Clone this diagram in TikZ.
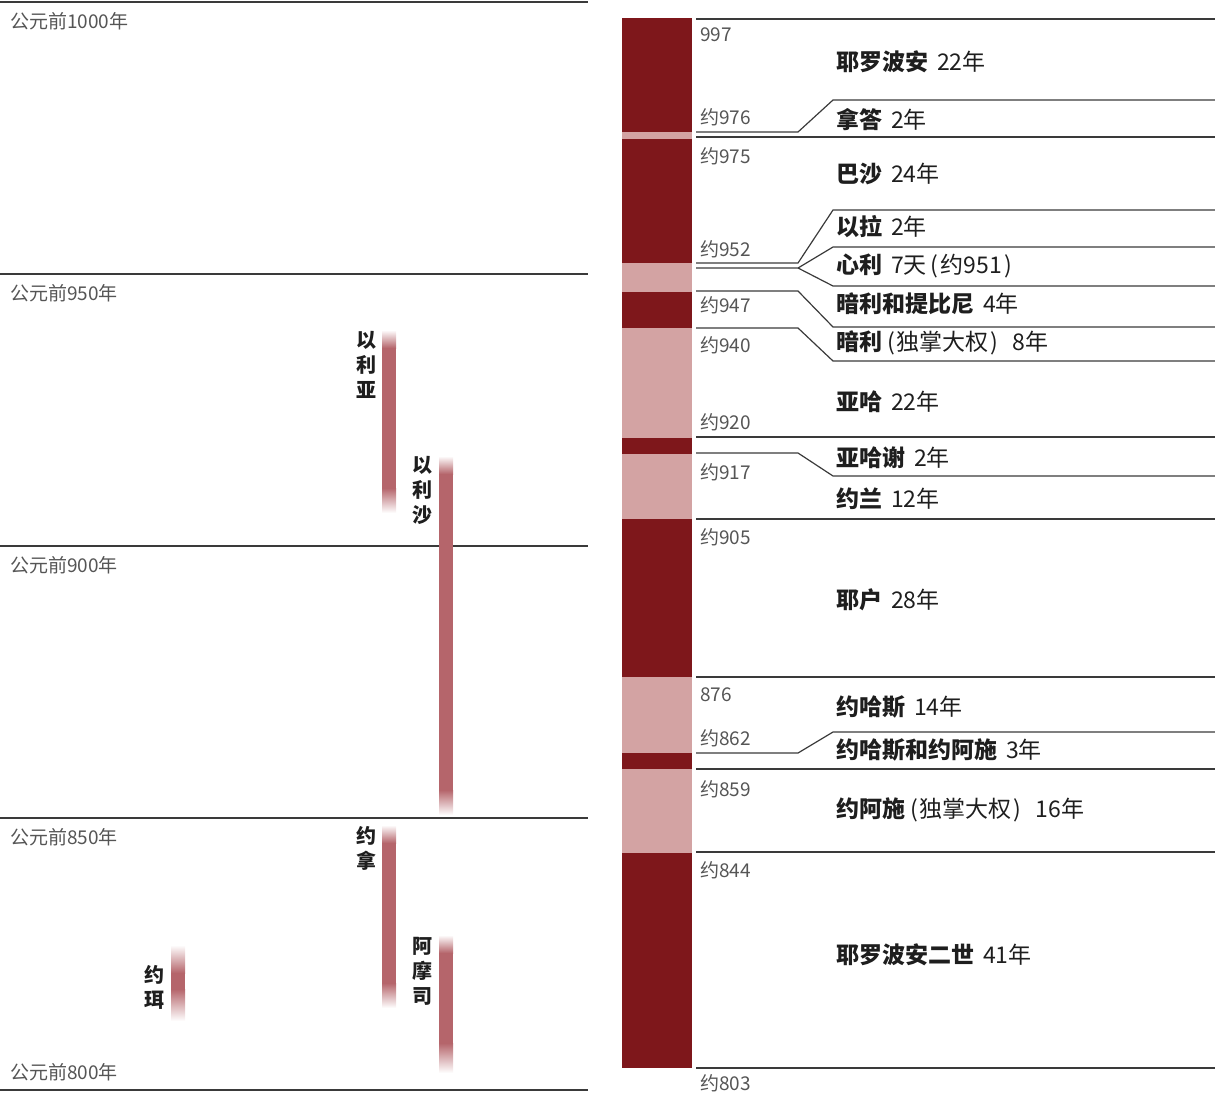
\documentclass[tikz,border=0pt]{standalone}
\usepackage{fontspec}
\setmainfont{Noto Sans CJK SC}
\usepackage{tikz}
\definecolor{kingdark}{HTML}{7E171B}
\definecolor{kinglight}{HTML}{D3A3A3}
\definecolor{seer}{HTML}{B5656B}
\definecolor{rulegray}{HTML}{3A3A3A}
\definecolor{labgray}{HTML}{555555}
\definecolor{inkgray}{HTML}{1E1E1E}
\tikzset{%
	grid/.style={draw=rulegray, line width=1.3pt},
	era/.style={anchor=west, inner sep=0pt, text=labgray, font=\fontsize{19}{19}\selectfont},
	reign/.style={draw=rulegray, line width=1.2pt},
	yr/.style={anchor=west, inner sep=0pt, text=labgray, font=\fontsize{19}{19}\selectfont},
	king/.style={anchor=west, inner sep=0pt, text=inkgray, font=\fontsize{23}{23}\selectfont},
	prophet/.style={anchor=north, inner sep=0pt, align=center, text=inkgray,%
		font=\bfseries\fontsize{20}{25}\selectfont},
	dark/.style={fill=kingdark},
	light/.style={fill=kinglight}
}

\begin{document}
\begin{tikzpicture}[x=1pt, y=-1pt]
	\useasboundingbox (0,0) rectangle (1215,1093);

	% time axis on the left
	\foreach \y/\t in {2/1000, 274/950, 546/900, 818/850}{
		\draw[grid] (0,\y) -- (588,\y);
		\node[era] (g\t) at (10,\y+19) {公元前\t 年};
	}
	\draw[grid] (0,1090) -- (588,1090);
	\node[era] (g800) at (10,1072) {公元前800年};

	% prophets
	\foreach \x/\ya/\yb/\fa/\fb in {382/330/513/18/25, 439/456/815/18/25,%
		382/825/1008/18/25, 439/935/1073/18/30, 171/945/1021/28/32}{
		\shade[top color=white, bottom color=seer] (\x,\ya) rectangle (\x+14,\ya+\fa);
		\fill[seer] (\x,\ya+\fa-0.5) rectangle (\x+14,\yb-\fb+0.5);
		\shade[top color=seer, bottom color=white] (\x,\yb-\fb) rectangle (\x+14,\yb);
	}
	\node[prophet] (elijah) at (366,331) {以\\利\\亚};
	\node[prophet] (elisha) at (422,456) {以\\利\\沙};
	\node[prophet] (jonah)  at (366,826) {约\\拿};
	\node[prophet] (amos)   at (422,937) {阿\\摩\\司};
	\node[prophet] (joel)   at (154,965) {约\\珥};

	% reigns bar
	\foreach \ya/\yb/\c in {18/131.5/dark, 131.5/138.5/light, 138.5/262.5/dark,%
		262.5/291.5/light, 291.5/327.5/dark, 327.5/437.5/light, 437.5/453.5/dark,%
		453.5/518.5/light, 518.5/676.5/dark, 676.5/752.5/light, 752.5/769/dark,%
		769/852.5/light, 852.5/1068/dark}
		\fill[\c] (622,\ya) rectangle (692,\yb);

	% reign rules
	\draw[reign] (696,19) -- (1215,19);
	\draw[reign] (696,132) -- (798,132) -- (833,100) -- (1215,100);
	\draw[reign] (696,137) -- (1215,137);
	\draw[reign] (696,263) -- (798,263) -- (833,210) -- (1215,210);
	\draw[reign] (696,268) -- (798,268) -- (833,247) -- (1215,247);
	\draw[reign] (798,268) -- (833,286) -- (1215,286);
	\draw[reign] (696,291) -- (798,291) -- (833,327) -- (1215,327);
	\draw[reign] (696,328) -- (798,328) -- (833,361) -- (1215,361);
	\draw[reign] (696,437) -- (1215,437);
	\draw[reign] (696,453) -- (798,453) -- (833,476) -- (1215,476);
	\draw[reign] (696,519) -- (1215,519);
	\draw[reign] (696,677) -- (1215,677);
	\draw[reign] (696,753) -- (798,753) -- (833,732) -- (1215,732);
	\draw[reign] (696,769) -- (1215,769);
	\draw[reign] (696,852) -- (1215,852);
	\draw[reign] (696,1068) -- (1215,1068);

	% years
	\node[yr] (y997) at (700,35)  {997};
	\node[yr] (y976) at (700,117) {约976};
	\node[yr] (y975) at (700,156) {约975};
	\node[yr] (y952) at (700,249) {约952};
	\node[yr] (y947) at (700,305) {约947};
	\node[yr] (y940) at (700,345) {约940};
	\node[yr] (y920) at (700,422) {约920};
	\node[yr] (y917) at (700,472) {约917};
	\node[yr] (y905) at (700,537) {约905};
	\node[yr] (y876) at (700,695) {876};
	\node[yr] (y862) at (700,738) {约862};
	\node[yr] (y859) at (700,789) {约859};
	\node[yr] (y844) at (700,870) {约844};
	\node[yr] (y803) at (700,1083) {约803};

	% kings
	\node[king] (jeroboam) at (836,62)  {\textbf{耶罗波安}\hspace{9pt}22年};
	\node[king] (nadab)    at (836,120) {\textbf{拿答}\hspace{9pt}2年};
	\node[king] (baasha)   at (836,174) {\textbf{巴沙}\hspace{9pt}24年};
	\node[king] (elah)     at (836,227) {\textbf{以拉}\hspace{9pt}2年};
	\node[king] (zimri)    at (836,266) {\textbf{心利}\hspace{9pt}7天\hspace{4pt}(\hspace{2pt}约951\hspace{2pt})};
	\node[king] (omritib)  at (836,304) {\textbf{暗利和提比尼}\hspace{9pt}4年};
	\node[king] (omri)     at (836,343) {\textbf{暗利}\hspace{5pt}(\hspace{2pt}独掌大权\hspace{2pt})\hspace{14pt}8年};
	\node[king] (ahab)     at (836,402) {\textbf{亚哈}\hspace{9pt}22年};
	\node[king] (ahaziah)  at (836,458) {\textbf{亚哈谢}\hspace{9pt}2年};
	\node[king] (joram)    at (836,499) {\textbf{约兰}\hspace{9pt}12年};
	\node[king] (jehu)     at (836,600) {\textbf{耶户}\hspace{9pt}28年};
	\node[king] (jehoahaz) at (836,707) {\textbf{约哈斯}\hspace{9pt}14年};
	\node[king] (coreign)  at (836,750) {\textbf{约哈斯和约阿施}\hspace{9pt}3年};
	\node[king] (jehoash)  at (836,810) {\textbf{约阿施}\hspace{5pt}(\hspace{2pt}独掌大权\hspace{2pt})\hspace{14pt}16年};
	\node[king] (jerob2)   at (836,955) {\textbf{耶罗波安二世}\hspace{9pt}41年};
\end{tikzpicture}
\end{document}
